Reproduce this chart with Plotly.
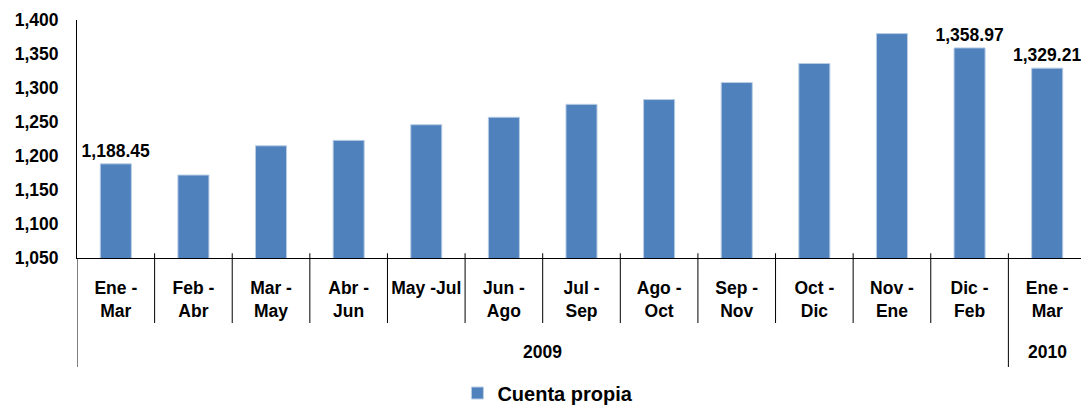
"""Cuenta propia: promedio movil trimestral."""

import plotly.graph_objects as go

periodos = ["Ene -<br>Mar", "Feb -<br>Abr", "Mar -<br>May", "Abr -<br>Jun", "May -Jul",
            "Jun -<br>Ago", "Jul -<br>Sep", "Ago -<br>Oct", "Sep -<br>Nov", "Oct -<br>Dic",
            "Nov -<br>Ene", "Dic -<br>Feb", "Ene -<br>Mar"]
valores = [1188.45, 1172, 1215, 1223, 1246, 1257, 1276, 1283, 1308, 1336, 1380, 1358.97, 1329.21]
etiquetas = ["1,188.45", "", "", "", "", "", "", "", "", "", "", "1,358.97", "1,329.21"]
anios = ["2009", "2010"]
anio_grupos = [(0, 11), (12, 12)]

AZUL = "#4F81BD"
FUENTE = dict(family="Liberation Sans, Arial", size=17.5, color="black", weight="bold")

x = list(range(len(valores)))

fig = go.Figure()
fig.add_trace(go.Bar(
    x=x, y=valores, name="Cuenta propia",
    marker=dict(color=AZUL, line=dict(color="#b9cde5", width=1)),
    text=etiquetas, textposition="outside", cliponaxis=False, constraintext="none",
    textfont=FUENTE,
))

# separadores del eje de categorias
alto_px = 238
corto = -(323 - 258) / alto_px
largo = -(367 - 258) / alto_px
for i in range(len(valores) + 1):
    b = i - 0.5
    fondo = largo if i in (0, 12, 13) else corto
    fig.add_shape(type="line", xref="x", yref="paper", x0=b, x1=b, y0=0.02 if i else 0, y1=fondo,
                  line=dict(color="black", width=1))

for anio, (a, b) in zip(anios, anio_grupos):
    fig.add_annotation(x=(a + b) / 2, y=-(352 - 258) / alto_px, xref="x", yref="paper",
                       text=anio, showarrow=False, font=FUENTE, yanchor="middle")

# la pagina deja 8 px de margen alrededor del grafico
fig.update_layout(
    width=1081, height=399,
    margin=dict(l=69, r=3, t=12, b=149, autoexpand=False),
    plot_bgcolor="white", paper_bgcolor="white",
    font=FUENTE,
    bargap=0.6,
    showlegend=True,
    legend=dict(orientation="h", x=0.377, xanchor="left", y=-(393 - 258) / alto_px, yanchor="middle",
                font=dict(FUENTE, size=20), itemwidth=30),
)
fig.update_xaxes(
    range=[-0.5, 12.5], tickvals=x, ticktext=periodos, ticks="",
    ticklabelstandoff=14, showline=True, linecolor="black", linewidth=1,
    showgrid=False, zeroline=False, tickfont=FUENTE, automargin=False,
)
fig.update_yaxes(
    range=[1050, 1400], dtick=50, tickformat=",", showgrid=False, zeroline=False,
    showline=True, linecolor="black", linewidth=1, ticks="", ticklabelstandoff=14,
    tickfont=FUENTE, automargin=False,
)

fig.write_html("out.html")
